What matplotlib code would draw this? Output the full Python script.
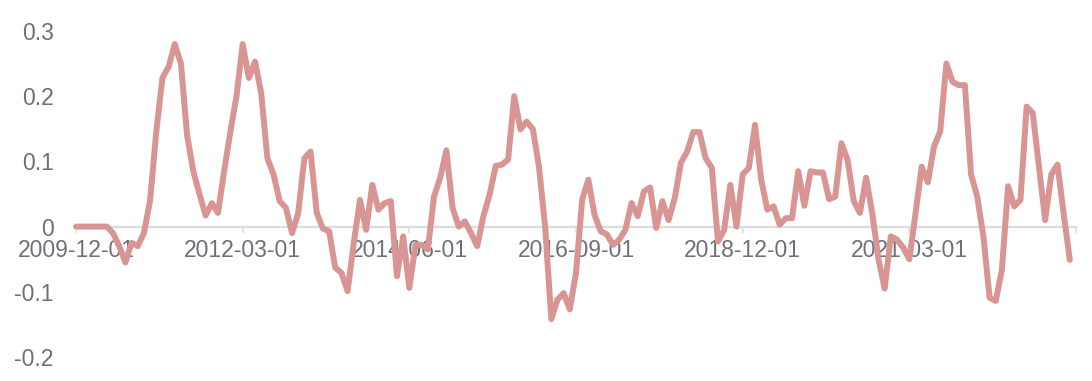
import matplotlib
matplotlib.use("Agg")
import matplotlib.pyplot as plt
import pandas as pd

# monthly values, starting 2009-12
values = [
    0, 0, 0, 0, 0, 0, -0.01, -0.03, -0.055, -0.025, -0.03, -0.01,
    0.04, 0.145, 0.228, 0.245, 0.28, 0.25, 0.14, 0.085, 0.05, 0.017, 0.036, 0.021,
    0.085, 0.145, 0.2, 0.28, 0.228, 0.253, 0.205, 0.105, 0.08, 0.039, 0.029, -0.01,
    0.021, 0.105, 0.115, 0.021, -0.003, -0.007, -0.063, -0.071, -0.099, -0.025, 0.041, -0.005,
    0.064, 0.026, 0.036, 0.039, -0.076, -0.015, -0.094, -0.028, -0.028, -0.035, 0.046, 0.075,
    0.117, 0.029, 0.0, 0.008, -0.01, -0.03, 0.016, 0.049, 0.093, 0.095, 0.103, 0.2,
    0.149, 0.161, 0.15, 0.092, 0.0, -0.142, -0.112, -0.102, -0.127, -0.071, 0.041, 0.072,
    0.018, -0.007, -0.012, -0.028, -0.02, -0.005, 0.036, 0.016, 0.054, 0.06, -0.002, 0.039,
    0.01, 0.044, 0.098, 0.115, 0.145, 0.145, 0.105, 0.09, -0.023, -0.005, 0.064, 0.0,
    0.08, 0.09, 0.156, 0.072, 0.026, 0.031, 0.003, 0.013, 0.013, 0.085, 0.032, 0.085,
    0.083, 0.083, 0.042, 0.046, 0.128, 0.102, 0.039, 0.021, 0.075, 0.02, -0.05, -0.095,
    -0.015, -0.02, -0.032, -0.05, 0.02, 0.092, 0.068, 0.123, 0.146, 0.25, 0.222, 0.217,
    0.217, 0.08, 0.046, -0.015, -0.109, -0.114, -0.066, 0.062, 0.031, 0.041, 0.184, 0.174,
    0.092, 0.01, 0.08, 0.095, 0.02, -0.051,
]
dates = pd.date_range("2009-12-01", periods=len(values), freq="MS")
labels = [d.strftime("%Y-%m-%d") for d in dates]
yticks = [-0.2, -0.1, 0, 0.1, 0.2, 0.3]
ytick_labels = ["-0.2", "-0.1", "0", "0.1", "0.2", "0.3"]

plt.rcParams["font.family"] = ["Liberation Sans", "DejaVu Sans"]
gray = "#6e7079"
axis_gray = "#dcdcdc"

fig = plt.figure(figsize=(10.92, 3.81), dpi=100)
ax = fig.add_axes([76 / 1092, 1 - 357 / 381, 1000 / 1092, (357 - 31) / 381])

x = list(range(len(values)))
ax.plot(x, values, color="#d99594", lw=4.3, solid_joinstyle="round",
        solid_capstyle="round", zorder=3, clip_on=False)

ax.set_xlim(0, len(values))
ax.set_ylim(-0.2, 0.3)

for s in ["top", "right", "left"]:
    ax.spines[s].set_visible(False)
# category axis sits on the zero line
ax.spines["bottom"].set_position(("data", 0))
ax.spines["bottom"].set_color(axis_gray)
ax.spines["bottom"].set_linewidth(1.6)

step = 27
tick_pos = list(range(0, len(values) + 1, step))
ax.set_xticks(tick_pos)
ax.set_xticklabels([labels[i] if i < len(labels) else "" for i in tick_pos])
ax.tick_params(axis="x", length=4, width=1.1, color=axis_gray,
               labelsize=16.5, labelcolor=gray, pad=5)

ax.set_yticks(yticks)
ax.set_yticklabels(ytick_labels)
ax.tick_params(axis="y", length=0, labelsize=16.5, labelcolor=gray, pad=16)

fig.savefig("out.png", dpi=100)
